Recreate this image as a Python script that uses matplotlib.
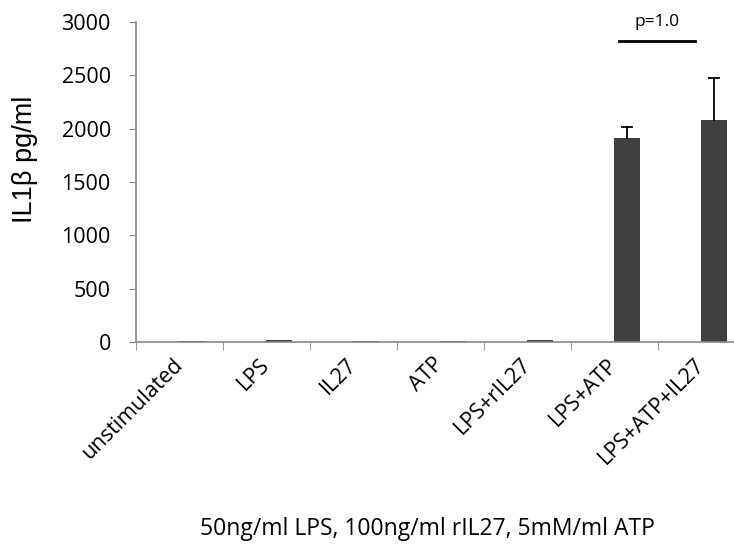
import numpy as np
from matplotlib import pyplot as plt

groups = ["unstimulated", "LPS", "IL27", "ATP", "LPS+rIL27", "LPS+ATP", "LPS+ATP+IL27"]
il1b = [6, 14, 5, 5, 14, 1910, 2080]
il1b_err = [0, 0, 0, 0, 0, 100, 395]
p_text = "p=1.0"
p_line_y = 2820

plt.rcParams['font.family'] = ['Open Sans', 'DejaVu Sans']

fig = plt.figure(figsize=(7.34, 5.45), dpi=100)
ax = fig.add_axes([0.185, 0.3725, 0.83, 0.5875])

x = np.arange(len(groups))
xb = x + 0.145  # bars sit on the right half of each category slot
ax.bar(xb, il1b, width=0.29, color="#404040", zorder=2)

# upper error bars only
for xi, v, e in zip(xb, il1b, il1b_err):
    if e > 0:
        ax.plot([xi, xi], [v, v + e], color="black", lw=1.3, zorder=3)
        ax.plot([xi - 0.06, xi + 0.06], [v + e, v + e], color="black", lw=1.3, zorder=3)

ax.set_xlim(-0.5, len(groups) - 0.5)
ax.set_ylim(0, 3000)
ax.set_yticks(np.arange(0, 3001, 500))
ax.tick_params(axis="y", labelsize=15.5, length=5, color="#888888", pad=13)

ax.set_xticks(x)
ax.set_xticklabels(groups, rotation=45, ha="right", va="center", rotation_mode="anchor", fontsize=15.5)
ax.set_xticks(np.arange(-0.5, len(groups)), minor=True)
ax.tick_params(axis="x", which="major", length=0, pad=14)
ax.tick_params(axis="x", which="minor", length=6, color="#888888")

for s in ["top", "right"]:
    ax.spines[s].set_visible(False)
for s in ["left", "bottom"]:
    ax.spines[s].set_color("#888888")
    ax.spines[s].set_linewidth(1.2)

ax.set_ylabel("IL1β pg/ml", fontsize=19.5, family="Liberation Sans")
ax.yaxis.set_label_coords(-0.161, 0.572)
fig.text(0.582, 0.018, "50ng/ml LPS, 100ng/ml rIL27, 5mM/ml ATP", ha="center", fontsize=16.5)

# significance bar between the two ATP groups
ax.plot([5.05, 5.93], [p_line_y, p_line_y], color="black", lw=2, clip_on=False)
ax.text(5.49, p_line_y + 100, p_text, ha="center", va="bottom", fontsize=12.5)

fig.savefig("out.png", dpi=100)
